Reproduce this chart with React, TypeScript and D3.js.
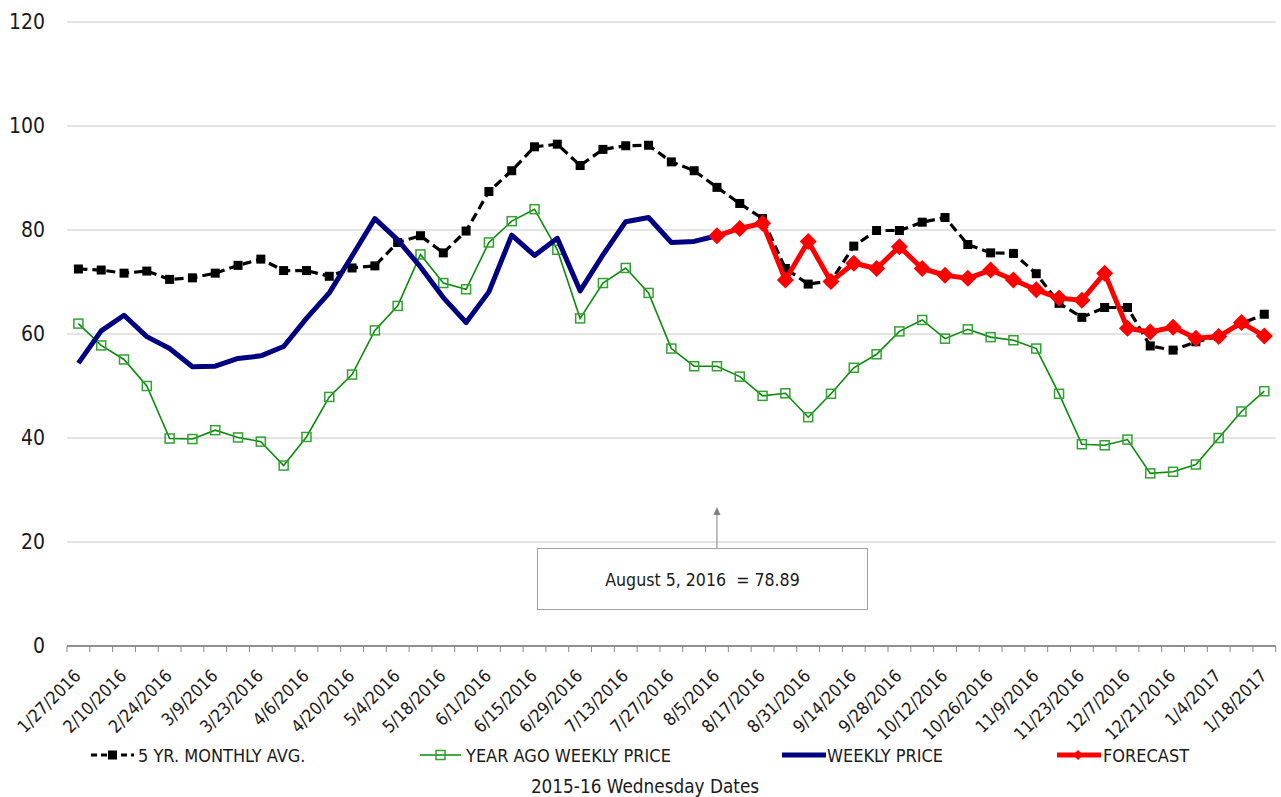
import React from "react";
import * as d3 from "d3";

const categories: string[] = [
  "1/27/2016","2/3/2016","2/10/2016","2/17/2016","2/24/2016","3/2/2016","3/9/2016","3/16/2016","3/23/2016","3/30/2016",
  "4/6/2016","4/13/2016","4/20/2016","4/27/2016","5/4/2016","5/11/2016","5/18/2016","5/25/2016","6/1/2016","6/8/2016",
  "6/15/2016","6/22/2016","6/29/2016","7/6/2016","7/13/2016","7/20/2016","7/27/2016","8/3/2016","8/5/2016","8/10/2016",
  "8/17/2016","8/24/2016","8/31/2016","9/7/2016","9/14/2016","9/21/2016","9/28/2016","10/5/2016","10/12/2016","10/19/2016",
  "10/26/2016","11/2/2016","11/9/2016","11/16/2016","11/23/2016","11/30/2016","12/7/2016","12/14/2016","12/21/2016","12/28/2016",
  "1/4/2017","1/11/2017","1/18/2017",
];

const fiveYrAvg: number[] = [
  72.5, 72.3, 71.7, 72.1, 70.5, 70.8, 71.7, 73.2, 74.4, 72.2,
  72.2, 71.1, 72.7, 73.1, 77.6, 78.9, 75.6, 79.8, 87.4, 91.4,
  96.0, 96.5, 92.4, 95.5, 96.2, 96.3, 93.1, 91.4, 88.2, 85.1,
  82.2, 72.6, 69.6, 70.2, 76.9, 79.9, 79.9, 81.5, 82.4, 77.2,
  75.6, 75.5, 71.6, 65.9, 63.2, 65.1, 65.1, 57.7, 56.9, 58.5,
  59.5, 62.0, 63.8,
];

const yearAgo: number[] = [
  62.0, 57.8, 55.1, 50.0, 39.9, 39.8, 41.5, 40.1, 39.3, 34.7,
  40.2, 47.9, 52.2, 60.7, 65.4, 75.3, 69.8, 68.6, 77.6, 81.7,
  84.0, 76.2, 63.0, 69.8, 72.7, 67.9, 57.2, 53.8, 53.8, 51.8,
  48.1, 48.6, 44.0, 48.5, 53.5, 56.1, 60.5, 62.7, 59.1, 60.9,
  59.4, 58.8, 57.2, 48.5, 38.8, 38.6, 39.7, 33.2, 33.5, 34.9,
  40.0, 45.1, 49.0,
];

// weekly price: first 29 weeks (through 8/5/2016)
const weeklyPrice: number[] = [
  54.4, 60.6, 63.6, 59.5, 57.2, 53.7, 53.8, 55.3, 55.8, 57.6,
  63.0, 67.9, 75.0, 82.2, 78.1, 72.9, 67.0, 62.2, 68.1, 79.0,
  75.1, 78.4, 68.3, 75.2, 81.6, 82.4, 77.6, 77.8, 78.89,
];

// forecast: from 8/5/2016 to end
const forecastStart = 28;
const forecast: number[] = [
  78.89, 80.3, 81.3, 70.4, 77.8, 70.1, 73.6, 72.6, 76.8, 72.6,
  71.3, 70.7, 72.3, 70.4, 68.5, 66.9, 66.5, 71.7, 61.1, 60.4,
  61.3, 59.2, 59.5, 62.2, 59.6,
];

const yTicks: number[] = [0, 20, 40, 60, 80, 100, 120];

const seriesNames = ["5 YR. MONTHLY AVG.", "YEAR AGO WEEKLY PRICE", "WEEKLY PRICE", "FORECAST"];
const annotationText = "August 5, 2016  = 78.89";
const xTitle = "2015-16 Wednesday Dates";

const FONT = "'DejaVu Sans Condensed', 'DejaVu Sans', Verdana, sans-serif";

export default function App() {
  const W = 1281, H = 797;
  const left = 67, right = 1275.7, top = 22, bottom = 646;

  const x = d3.scaleBand<string>().domain(categories).range([left, right]).padding(0);
  const y = d3.scaleLinear().domain([0, 120]).range([bottom, top]);
  const cx = (i: number) => (x(categories[i]) as number) + x.bandwidth() / 2;

  const line = d3.line<[number, number]>().x(d => cx(d[0])).y(d => y(d[1]));

  const blackPts: [number, number][] = fiveYrAvg.map((v, i) => [i, v]);
  const greenPts: [number, number][] = yearAgo.map((v, i) => [i, v]);
  const bluePts: [number, number][] = weeklyPrice.map((v, i) => [i, v]);
  const redPts: [number, number][] = forecast.map((v, i) => [i + forecastStart, v]);

  const black = "#000000";
  const green = "#0a8a0a";
  const greenMarker = "#33a033";
  const blue = "#000080";
  const red = "#ff0000";
  const textColor = "#1a1a1a";

  const diamond = (px: number, py: number, r: number) =>
    `M${px},${py - r}L${px + r},${py}L${px},${py + r}L${px - r},${py}Z`;

  const arrowX = cx(forecastStart);
  const legendY = 755;

  return (
    <svg width={W} height={H} style={{ position: "absolute", left: 0, top: 0, background: "#fff" }}
      fontFamily={FONT} fontStretch="condensed">
      {/* gridlines */}
      {yTicks.filter(t => t > 0).map(t => (
        <line key={t} x1={left} x2={right} y1={y(t)} y2={y(t)} stroke="#c8c8c8" strokeWidth={1} />
      ))}
      {/* y labels */}
      {yTicks.map(t => (
        <text key={t} x={45} y={y(t)} textAnchor="end" dominantBaseline="central" fontSize={21} fill={textColor}>
          {t}
        </text>
      ))}
      {/* x axis */}
      <line x1={left} x2={right} y1={bottom} y2={bottom} stroke="#222" strokeWidth={1.2} />
      {categories.map((c, i) => (
        <line key={"t" + i} x1={x(c) as number} x2={x(c) as number} y1={bottom} y2={bottom + 6} stroke="#888" strokeWidth={1} />
      ))}
      <line x1={right} x2={right} y1={bottom} y2={bottom + 6} stroke="#888" strokeWidth={1} />
      {categories.map((c, i) =>
        i % 2 === 0 ? (
          <text key={"l" + i} transform={`translate(${cx(i) + 3.5},${677}) rotate(-45)`} textAnchor="end"
            fontSize={17.5} fill={textColor}>
            {c}
          </text>
        ) : null
      )}

      {/* 5 yr avg */}
      <path d={line(blackPts) || ""} fill="none" stroke={black} strokeWidth={3.2} strokeDasharray="9,5" />
      {blackPts.map(([i, v]) => (
        <rect key={"b" + i} x={cx(i) - 4.5} y={y(v) - 4.5} width={9} height={9} fill={black} />
      ))}

      {/* year ago */}
      <path d={line(greenPts) || ""} fill="none" stroke={green} strokeWidth={1.6} />
      {greenPts.map(([i, v]) => (
        <rect key={"g" + i} x={cx(i) - 4.5} y={y(v) - 4.5} width={9} height={9} fill="none" stroke={greenMarker} strokeWidth={1.5} />
      ))}

      {/* weekly price */}
      <path d={line(bluePts) || ""} fill="none" stroke={blue} strokeWidth={5} strokeLinejoin="round" />

      {/* forecast */}
      <path d={line(redPts) || ""} fill="none" stroke={red} strokeWidth={5} strokeLinejoin="round" />
      {redPts.map(([i, v]) => (
        <path key={"r" + i} d={diamond(cx(i), y(v), 8.5)} fill={red} />
      ))}

      {/* annotation */}
      <line x1={arrowX} x2={arrowX} y1={548} y2={512} stroke="#808080" strokeWidth={1} />
      <path d={`M${arrowX},${507}L${arrowX - 3.5},${515}L${arrowX + 3.5},${515}Z`} fill="#808080" />
      <rect x={537.5} y={548.5} width={330} height={61} fill="#fff" stroke="#a0a0a0" strokeWidth={1} />
      <text x={702.5} y={580} textAnchor="middle" dominantBaseline="central" fontSize={17.6} fill={textColor}
        style={{ whiteSpace: "pre" }}>
        {annotationText}
      </text>

      {/* legend */}
      <g fontSize={18} fill={textColor}>
        <line x1={91} x2={134} y1={legendY} y2={legendY} stroke={black} strokeWidth={3.2} strokeDasharray="6,4" />
        <rect x={108} y={legendY - 4.5} width={9} height={9} fill={black} />
        <text x={138} y={legendY} dominantBaseline="central">{seriesNames[0]}</text>

        <line x1={420} x2={461} y1={legendY} y2={legendY} stroke={green} strokeWidth={1.6} />
        <rect x={436} y={legendY - 4.5} width={9} height={9} fill="none" stroke={greenMarker} strokeWidth={1.5} />
        <text x={466} y={legendY} dominantBaseline="central">{seriesNames[1]}</text>

        <line x1={782} x2={826} y1={legendY} y2={legendY} stroke={blue} strokeWidth={5} />
        <text x={827} y={legendY} dominantBaseline="central">{seriesNames[2]}</text>

        <line x1={1057} x2={1101} y1={legendY} y2={legendY} stroke={red} strokeWidth={5} />
        <path d={diamond(1078, legendY, 5)} fill={red} />
        <text x={1103} y={legendY} dominantBaseline="central">{seriesNames[3]}</text>
      </g>

      <text x={645} y={786} textAnchor="middle" dominantBaseline="central" fontSize={18.8} fill={textColor}>
        {xTitle}
      </text>
    </svg>
  );
}
